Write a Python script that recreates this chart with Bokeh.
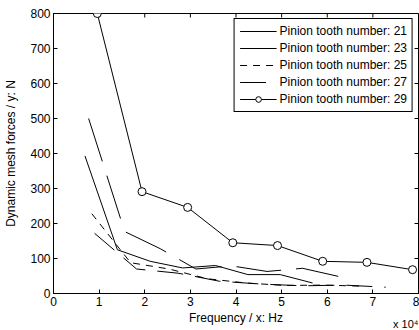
import math

from bokeh.plotting import figure
from bokeh.models import Range1d, Legend, LegendItem, Title, FixedTicker
from bokeh.embed import file_html
from bokeh.resources import INLINE

# Mesh frequency (x 10^4 Hz) and dynamic mesh force (N) per pinion tooth number
freq_21 = [0.69, 1.40, 2.12, 2.83, 3.55, 4.26, 4.97, 5.68]
force_21 = [393, 125, 92, 73, 80, 54, 54, 30]

freq_23 = [0.77, 1.56, 2.34, 3.12, 3.90, 4.68, 5.46, 6.24]
force_23 = [500, 177, 128, 70, 79, 63, 72, 49]

freq_25 = [0.84, 1.69, 2.53, 3.38, 4.22, 5.07, 5.91, 6.76]
force_25 = [228, 88, 70, 42, 30, 23, 24, 21]

freq_27 = [0.90, 1.82, 2.73, 3.64, 4.55, 5.46, 6.37, 7.28]
force_27 = [172, 70, 58, 35, 27, 22, 24, 18]

freq_29 = [0.96, 1.94, 2.94, 3.93, 4.91, 5.90, 6.87, 7.87]
force_29 = [800, 291, 246, 145, 137, 92, 89, 68]

x_ticks = [0, 1, 2, 3, 4, 5, 6, 7, 8]
y_ticks = [0, 100, 200, 300, 400, 500, 600, 700, 800]
labels = ["Pinion tooth number: 21", "Pinion tooth number: 23",
          "Pinion tooth number: 25", "Pinion tooth number: 27",
          "Pinion tooth number: 29"]

FONT = "Liberation Sans"
X_MAX, Y_MAX = x_ticks[-1], y_ticks[-1]

p = figure(width=419, height=330, output_backend="svg", toolbar_location=None,
           x_range=Range1d(x_ticks[0], X_MAX), y_range=Range1d(y_ticks[0], Y_MAX),
           min_border_left=53, min_border_right=1, min_border_top=13,
           min_border_bottom=37)
p.xgrid.visible = False
p.ygrid.visible = False
p.outline_line_color = "black"
p.outline_line_alpha = 1.0
p.background_fill_color = "white"
p.border_fill_color = "white"

for ax, ticks in ((p.xaxis[0], x_ticks), (p.yaxis[0], y_ticks)):
    ax.ticker = FixedTicker(ticks=ticks)
    ax.minor_tick_line_color = None
    ax.major_tick_in = 4
    ax.major_tick_out = 0
    ax.axis_line_color = "black"
    ax.major_tick_line_color = "black"
    ax.major_label_text_font = FONT
    ax.major_label_text_font_size = "12px"
    ax.major_label_text_color = "black"
    ax.major_label_standoff = 3
    ax.axis_label_text_font = FONT
    ax.axis_label_text_font_size = "12px"
    ax.axis_label_text_font_style = "normal"
    ax.axis_label_text_color = "black"
p.xaxis.axis_label = "Frequency / x: Hz"
p.yaxis.axis_label = "Dynamic mesh forces / y: N"
p.xaxis[0].axis_label_standoff = 2
p.yaxis[0].axis_label_standoff = 9

# Inward ticks along the top and right edges of the box
p.ray(x=x_ticks, y=[Y_MAX] * len(x_ticks), length=4, length_units="screen",
      angle=-math.pi / 2, line_color="black", line_width=1)
p.ray(x=[X_MAX] * len(y_ticks), y=y_ticks, length=4, length_units="screen",
      angle=math.pi, line_color="black", line_width=1)

r21 = p.line(freq_21, force_21, line_color="black", line_width=1)
r23 = p.line(freq_23, force_23, line_color="black", line_width=1,
             line_dash="45 15")
r25 = p.line(freq_25, force_25, line_color="black", line_width=1,
             line_dash="7 6")
r27 = p.line(freq_27, force_27, line_color="black", line_width=1,
             line_dash="26 12")
r29 = p.line(freq_29, force_29, line_color="black", line_width=1)
m29 = p.scatter(freq_29, force_29, marker="circle", size=8,
                line_color="black", line_width=1, fill_color="white")

legend = Legend(items=[
    LegendItem(label=labels[0], renderers=[r21]),
    LegendItem(label=labels[1], renderers=[r23]),
    LegendItem(label=labels[2], renderers=[r25]),
    LegendItem(label=labels[3], renderers=[r27]),
    LegendItem(label=labels[4], renderers=[r29, m29]),
], location="top_right")
legend.margin = 5
legend.padding = 5
legend.spacing = 3
legend.glyph_width = 37
legend.glyph_height = 14
legend.label_height = 14
legend.label_standoff = 3
legend.label_text_font = FONT
legend.label_text_font_size = "12px"
legend.label_text_color = "black"
legend.border_line_color = "black"
legend.border_line_alpha = 1.0
legend.background_fill_alpha = 1.0
p.add_layout(legend)

# Scale factor for the frequency axis, below the lower right corner
scale_note = Title(text="x 10\u2074", align="right", vertical_align="top",
                   text_font=FONT, text_font_size="11px",
                   text_font_style="normal", text_color="black", standoff=-20)
p.add_layout(scale_note, "below")

open("out.html", "w").write(file_html(p, INLINE))
